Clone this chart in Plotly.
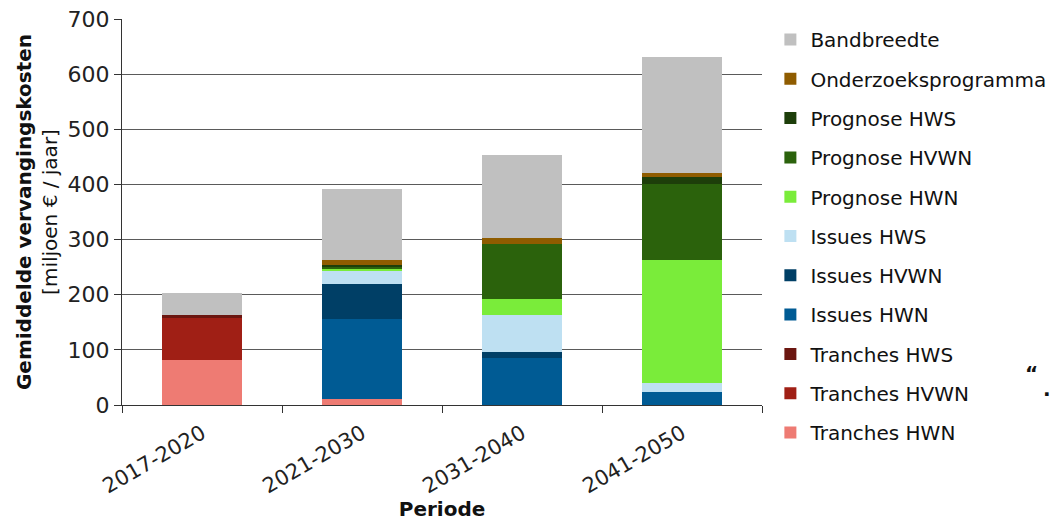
import plotly.graph_objects as go

# Periods on the x axis
periodes = ["2017-2020", "2021-2030", "2031-2040", "2041-2050"]

# Average replacement cost per component (million euro per year), bottom to top of each stack
tranches_hwn = [82, 10, 0, 0]
tranches_hvwn = [76, 0, 0, 0]
tranches_hws = [6, 0, 0, 0]
issues_hwn = [0, 146.5, 85.7, 23.2]
issues_hvwn = [0, 63.6, 10.2, 0]
issues_hws = [0, 22.9, 67.9, 16.4]
prognose_hwn = [0, 4.4, 27.8, 222.8]
prognose_hvwn = [0, 2.9, 101.1, 137.5]
prognose_hws = [0, 3.1, 0, 12.7]
onderzoeksprogramma = [0, 9.1, 9.6, 7.3]
bandbreedte = [40, 129, 150.7, 210.6]

y_ticks = [0, 100, 200, 300, 400, 500, 600, 700]

series = [
    ("Tranches HWN", tranches_hwn, "#EE7B73"),
    ("Tranches HVWN", tranches_hvwn, "#A01F15"),
    ("Tranches HWS", tranches_hws, "#6B1610"),
    ("Issues HWN", issues_hwn, "#005B94"),
    ("Issues HVWN", issues_hvwn, "#003F66"),
    ("Issues HWS", issues_hws, "#BEE0F2"),
    ("Prognose HWN", prognose_hwn, "#7AEC3A"),
    ("Prognose HVWN", prognose_hvwn, "#2B620C"),
    ("Prognose HWS", prognose_hws, "#1D3E0A"),
    ("Onderzoeksprogramma", onderzoeksprogramma, "#8F5C00"),
    ("Bandbreedte", bandbreedte, "#C0C0C0"),
]

FONT = "DejaVu Sans"
W, H = 1051, 521
ML, MR, MT, MB = 122, 289, 19, 116
PW, PH = W - ML - MR, H - MT - MB

fig = go.Figure()
for i, (naam, waarden, kleur) in enumerate(series):
    fig.add_trace(go.Bar(
        x=periodes, y=waarden, name=naam,
        marker=dict(color=kleur, line=dict(width=0)),
        width=0.5, legendgroup=naam, legendrank=100 - i,
    ))

fig.update_layout(
    width=W, height=H,
    barmode="stack",
    plot_bgcolor="white", paper_bgcolor="white",
    margin=dict(l=ML, r=MR, t=MT, b=MB, autoexpand=False),
    font=dict(family=FONT, size=20, color="#222222"),
    showlegend=True,
    legend=dict(
        traceorder="grouped",
        tracegroupgap=10.3,
        xref="container", yref="container",
        x=0.733, y=1 - 20 / H, xanchor="left", yanchor="top",
        font=dict(family=FONT, size=20, color="#111111"),
        bgcolor="rgba(0,0,0,0)", itemwidth=30, maxheight=800,
    ),
    xaxis=dict(
        title=dict(text="<b>Periode</b>", font=dict(size=20, color="#111111"), standoff=16),
        tickangle=-30,
        ticks="outside", tickson="boundaries", ticklen=7, tickcolor="#333333",
        showline=True, linecolor="#333333", linewidth=1,
        showgrid=False, automargin=False,
        ticklabelstandoff=7,
        tickfont=dict(size=21, color="#222222"),
    ),
    yaxis=dict(
        title=dict(text="<b>Gemiddelde vervangingskosten</b><br>[miljoen € / jaar]",
                   font=dict(size=20, color="#111111"), standoff=4),
        range=[0, 700], tickvals=y_ticks,
        ticks="outside", ticklen=7, tickcolor="#333333",
        showline=True, linecolor="#333333", linewidth=1,
        showgrid=True, gridcolor="#5a5a5a", gridwidth=1,
        zeroline=False, automargin=False,
        tickfont=dict(size=22, color="#222222"),
    ),
)

# Stray quotation marks beside the legend (positions given in page pixels)
for teken, px, py in [("<b>“</b>", 1040, 387), ("<b>.</b>", 1053, 403)]:
    fig.add_annotation(text=teken, xref="paper", yref="paper",
                       x=(px - ML) / PW, y=(H - MB - py) / PH,
                       showarrow=False, font=dict(family=FONT, size=20, color="#111111"))

fig.write_html("out.html")
